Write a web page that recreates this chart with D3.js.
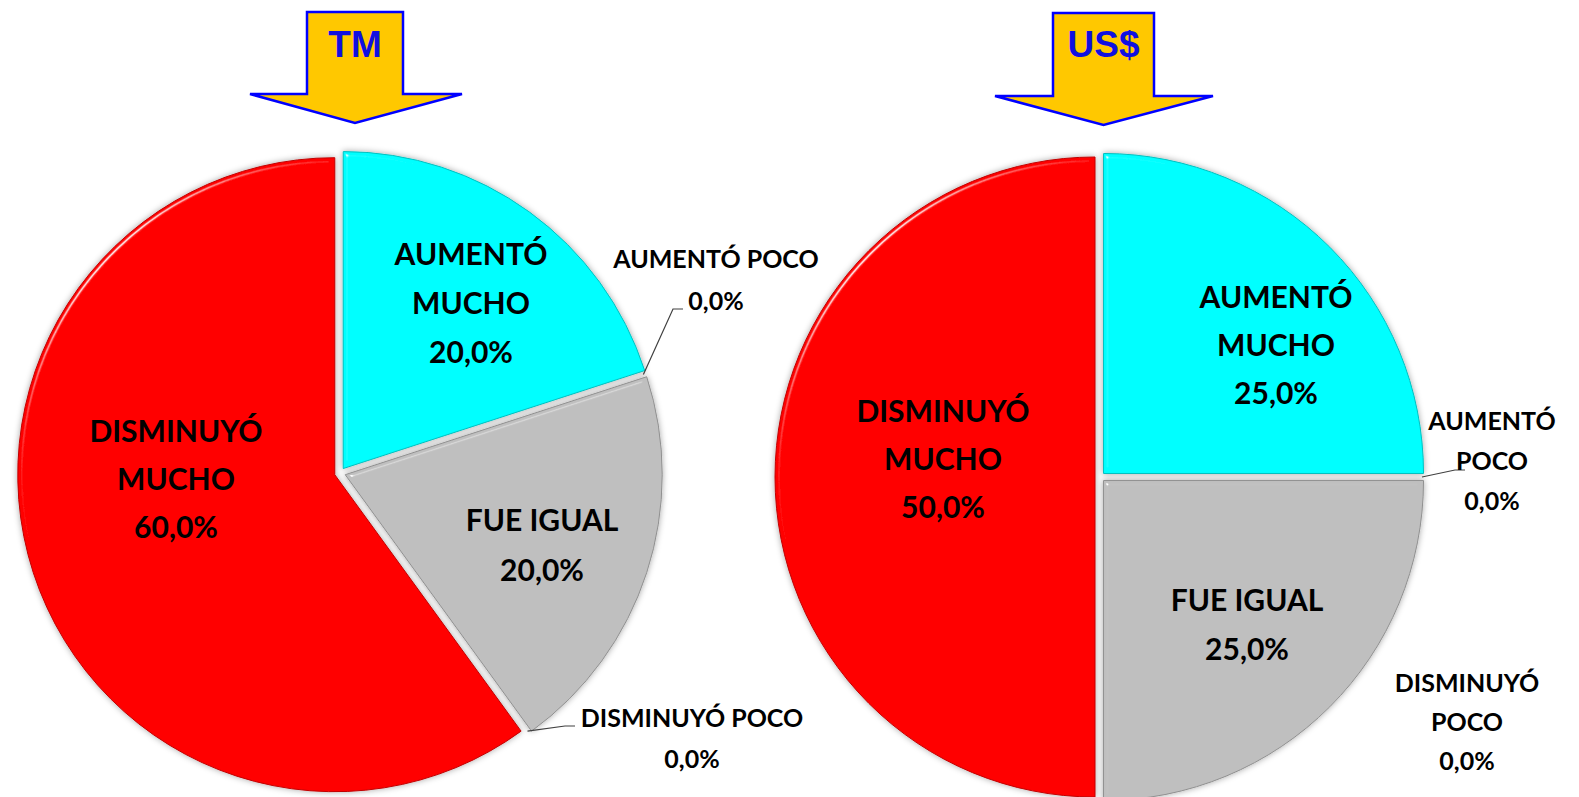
<!DOCTYPE html>
<html>
<head>
<meta charset="utf-8">
<script src="https://cdn.jsdelivr.net/npm/d3@7"></script>
<style>
  body { margin: 0; background: #fff; }
  svg { display: block; }
</style>
</head>
<body>
<script>
// data
var categories = ["AUMENTÓ MUCHO", "AUMENTÓ POCO", "FUE IGUAL", "DISMINUYÓ POCO", "DISMINUYÓ MUCHO"];
var tmValues = [20, 0, 20, 0, 60];
var usdValues = [25, 0, 25, 0, 50];
var sliceColors = ["#00FFFF", "#FFFFFF", "#BFBFBF", "#FFFFFF", "#FF0000"];
var chartTitles = ["TM", "US$"];

var width = 1579;
var height = 797;

var svg = d3.select("body").append("svg")
  .attr("width", width)
  .attr("height", height);

svg.append("rect").attr("width", width).attr("height", height).attr("fill", "#fff");

var defs = svg.append("defs");
var f = defs.append("filter").attr("id", "bevel")
  .attr("x", "-10%").attr("y", "-10%").attr("width", "120%").attr("height", "120%");
f.append("feGaussianBlur").attr("in", "SourceAlpha").attr("stdDeviation", 2.5).attr("result", "b");
var spec = f.append("feSpecularLighting").attr("in", "b").attr("surfaceScale", 4)
  .attr("specularConstant", 0.8).attr("specularExponent", 90)
  .attr("lighting-color", "#ffffff").attr("result", "s");
spec.append("feDistantLight").attr("azimuth", 225).attr("elevation", 40);
f.append("feComposite").attr("in", "s").attr("in2", "SourceAlpha").attr("operator", "in").attr("result", "s2");
f.append("feComposite").attr("in", "SourceGraphic").attr("in2", "s2").attr("operator", "arithmetic")
  .attr("k1", 0).attr("k2", 1).attr("k3", 1).attr("k4", 0).attr("result", "lit");
f.append("feGaussianBlur").attr("in", "SourceAlpha").attr("stdDeviation", 3).attr("result", "sh");
f.append("feFlood").attr("flood-color", "#000").attr("flood-opacity", 0.35).attr("result", "fl");
f.append("feComposite").attr("in", "fl").attr("in2", "sh").attr("operator", "in").attr("result", "shadow");
var merge = f.append("feMerge");
merge.append("feMergeNode").attr("in", "shadow");
merge.append("feMergeNode").attr("in", "lit");

var pies = [
  {
    title: chartTitles[0], values: tmValues, cx: 340, cy: 473, r: 317, explode: 5.5,
    arrow: { x0: 307, x1: 403, top: 12, neck: 94, w0: 250, w1: 462, tip: 123 },
    labels: [
      { x: 471, y: 265, dy: 49, size: 30, split: true },
      { x: 716, y: 268, dy: 42, size: 25, split: false, elbow: [[673, 309], [683, 309]] },
      { x: 542, y: 531, dy: 50, size: 30, split: false },
      { x: 692, y: 727, dy: 41, size: 25, split: false, elbow: [[565, 726], [575, 726]] },
      { x: 176, y: 442, dy: 48, size: 30, split: true }
    ]
  },
  {
    title: chartTitles[1], values: usdValues, cx: 1100, cy: 477, r: 320, explode: 5,
    arrow: { x0: 1053, x1: 1154, top: 13, neck: 96, w0: 995, w1: 1213, tip: 125 },
    labels: [
      { x: 1276, y: 308, dy: 48, size: 30, split: true },
      { x: 1492, y: 430, dy: 40, size: 25, split: true, elbow: [[1455, 470], [1465, 470]] },
      { x: 1247, y: 611, dy: 49, size: 30, split: false },
      { x: 1467, y: 692, dy: 39, size: 25, split: true },
      { x: 943, y: 422, dy: 48, size: 30, split: true }
    ]
  }
];

var pie = d3.pie().sort(null).value(function(d) { return d; });

function pct(v) {
  return v.toFixed(1).replace(".", ",") + "%";
}

pies.forEach(function(p) {
  var arcs = pie(p.values);
  var arc = d3.arc().innerRadius(0).outerRadius(p.r);
  var g = svg.append("g").attr("transform", "translate(" + p.cx + "," + p.cy + ")");

  arcs.forEach(function(a, i) {
    if (a.value === 0) return;
    var mid = (a.startAngle + a.endAngle) / 2;
    var ox = Math.sin(mid) * p.explode;
    var oy = -Math.cos(mid) * p.explode;
    g.append("path")
      .attr("transform", "translate(" + ox + "," + oy + ")")
      .attr("d", arc(a))
      .attr("fill", sliceColors[i])
      .attr("stroke", d3.color(sliceColors[i]).darker(0.8))
      .attr("stroke-width", 1)
      .attr("filter", "url(#bevel)");
  });

  // leader lines for the empty slices
  arcs.forEach(function(a, i) {
    var lab = p.labels[i];
    if (!lab.elbow) return;
    var ang = a.startAngle;
    var sx = p.cx + Math.sin(ang) * (p.r + 2);
    var sy = p.cy - Math.cos(ang) * (p.r + 2);
    var pts = [[sx, sy]].concat(lab.elbow);
    svg.append("path")
      .attr("d", d3.line()(pts))
      .attr("fill", "none")
      .attr("stroke", "#404040")
      .attr("stroke-width", 1.2);
  });

  // data labels
  arcs.forEach(function(a, i) {
    var lab = p.labels[i];
    var lines = lab.split ? categories[i].split(" ") : [categories[i]];
    lines = lines.concat([pct(a.value)]);
    var t = svg.append("text")
      .attr("text-anchor", "middle")
      .attr("font-family", "Lato, 'Open Sans', sans-serif")
      .attr("font-weight", "bold")
      .attr("font-size", lab.size)
      .attr("fill", "#000");
    lines.forEach(function(s, k) {
      t.append("tspan").attr("x", lab.x).attr("y", lab.y + k * lab.dy).text(s);
    });
  });

  // arrow with the title
  var A = p.arrow;
  var mx = (A.x0 + A.x1) / 2;
  var ap = d3.path();
  ap.moveTo(A.x0, A.top);
  ap.lineTo(A.x1, A.top);
  ap.lineTo(A.x1, A.neck);
  ap.lineTo(A.w1, A.neck);
  ap.lineTo(mx, A.tip);
  ap.lineTo(A.w0, A.neck);
  ap.lineTo(A.x0, A.neck);
  ap.closePath();
  svg.append("path")
    .attr("d", ap.toString())
    .attr("fill", "#FFC800")
    .attr("stroke", "#0000FF")
    .attr("stroke-width", 2.5)
    .attr("stroke-linejoin", "miter");
  svg.append("text")
    .attr("x", mx)
    .attr("y", 57)
    .attr("text-anchor", "middle")
    .attr("font-family", "'Liberation Sans', Arial, sans-serif")
    .attr("font-weight", "bold")
    .attr("font-size", 37)
    .attr("fill", "#1010E0")
    .text(p.title);
});
</script>
</body>
</html>
